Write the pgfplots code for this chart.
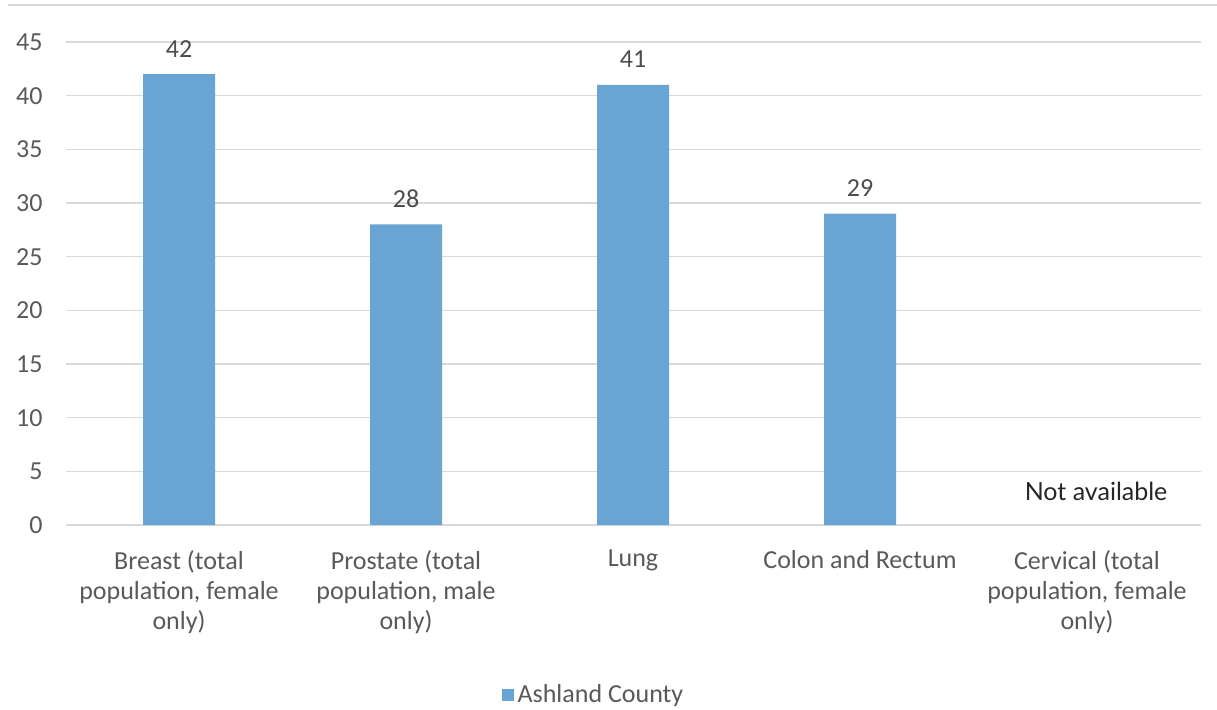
\documentclass[border=0pt]{standalone}
\usepackage{pgfplots}
\pgfplotsset{compat=1.18}
\usepackage{fontspec}
\setmainfont{Carlito}
\newfontfamily\nafont{Lato}
\definecolor{barblue}{HTML}{68A5D4}
\definecolor{txtgray}{HTML}{595959}
\definecolor{gridgray}{HTML}{D9D9D9}
\begin{document}
\begin{tikzpicture}
\useasboundingbox (-32.75pt,-92pt) rectangle (575.75pt,262.5pt);
\draw[gridgray, line width=0.8pt] (-28.75pt,260pt) -- (575.75pt,260pt);
\begin{axis}[
  at={(0,0)}, anchor=south west,
  scale only axis,
  width=567.5pt, height=241.5pt,
  xmin=-0.5, xmax=4.5,
  ymin=0, ymax=45,
  ytick={0,5,...,45},
  xtick={0,1,2,3,4},
  xticklabels={{Breast (total\\population, female\\only)},{Prostate (total\\population, male\\only)},{Lung},{Colon and Rectum},{Cervical (total\\population, female\\only)}},
  xticklabel style={align=center, font=\fontsize{13}{15}\selectfont, text=txtgray, anchor=north, yshift=-9pt},
  yticklabel style={font=\fontsize{13}{15}\selectfont, text=txtgray, anchor=east, xshift=-8pt},
  /pgf/number format/assume math mode=true,
  axis line style={draw=none},
  major tick length=0pt,
  ymajorgrids,
  grid style={gridgray, line width=0.8pt},
  ybar, bar width=36pt,
  nodes near coords,
  every node near coord/.append style={font=\fontsize{13}{15}\selectfont, text=txtgray!85!black, yshift=5pt},
  legend style={at={(0.466,-0.352)}, anchor=center, draw=none, fill=none, font=\fontsize{13}{15}\selectfont, text=txtgray},
  legend image code/.code={\fill[#1] (0pt,-3pt) rectangle (6pt,3pt);},
]
\addplot[fill=barblue, draw=none] coordinates {(0,42) (1,28) (2,41) (3,29)};
\addlegendentry{Ashland County}
\node[font=\nafont\fontsize{12.5}{15}\selectfont, text=black!85] at (axis cs:4.04,3.1) {Not available};
\end{axis}
\end{tikzpicture}
\end{document}
